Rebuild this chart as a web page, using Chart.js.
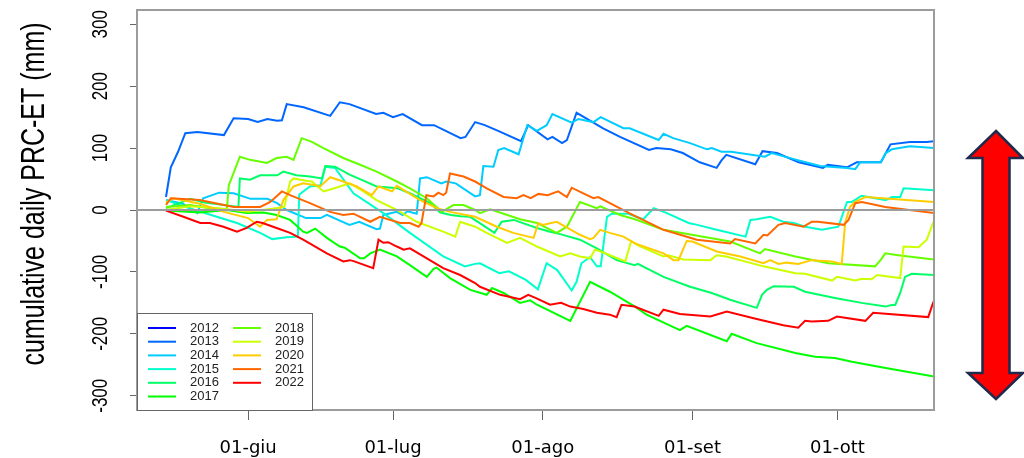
<!DOCTYPE html>
<html>
<head>
<meta charset="utf-8">
<script src="https://cdn.jsdelivr.net/npm/chart.js@4/dist/chart.umd.min.js"></script>
<style>
  html, body { margin: 0; padding: 0; background: #fff; }
</style>
</head>
<body>
<canvas id="chart" width="1024" height="458"></canvas>
<script>
// days counted from 01-giu (day 0), values in mm
const years = ['2012', '2013', '2014', '2015', '2016', '2017', '2018', '2019', '2020', '2021', '2022'];
const colors = ['#0000ff', '#0066ff', '#00ccff', '#00ffcc', '#00ff66', '#00ff00',
                '#66ff00', '#ccff00', '#ffcc00', '#ff6600', '#ff0000'];
const xTickDays = [0, 30, 61, 92, 122];
const xTickLabels = ['01-giu', '01-lug', '01-ago', '01-set', '01-ott'];
const yTicks = [-300, -200, -100, 0, 100, 200, 300];

const y2012 = [];
const y2013 = [[-17,21],[-16,69],[-14.5,94],[-13,124],[-10.5,126],[-5,121],[-3,148],[0,147],[2,142],[4,147],[6,144],[7,145],[8,171],[11.5,166],[17,152],[19,174],[21,171],[26.5,155],[28,157],[30,150],[32,155],[36,137],[38.5,137],[44,116],[45,118],[47,142],[49,137],[52,127],[56.5,111],[58,137],[62,114],[63,118],[65,108],[66,113],[68,157],[70,148],[73.5,132],[77,118],[83,97],[84.5,100],[87.5,98],[90,92],[93.5,77],[97,68],[98,80],[99,89],[105,74],[106.5,95],[109.5,92],[114,77],[119,68],[120,73],[124,69],[126,77],[131,77],[133,106],[137,110],[140.5,110],[142,111]];
const y2014 = [[-17,16],[-13.5,10],[-10.5,-5],[-9.3,19],[-6,28],[-3,27],[0.5,18],[4,18],[6,11],[8,0],[12,-13],[15,-13],[16.3,-8],[21,-24],[23,-19],[26.6,-31],[27.3,-30],[28,-8],[30.8,-3],[32,-8],[33,-2],[34.9,-6],[35.6,51],[37,53],[40,43],[41,46],[43,43],[47,22],[48,24],[48.7,71],[50.8,70],[51.8,97],[53,100],[56,90],[57.8,137],[59.8,128],[61.8,137],[63,155],[67,141],[68.4,147],[71.5,142],[73,150],[77.7,132],[79,132],[85,113],[86,123],[88,116],[91.5,108],[95,98],[96,100],[98,94],[100,94],[107,86],[108.4,92],[113.6,81],[118.4,71],[124,68],[125.7,66],[126.7,77],[131,77],[132,92],[133.3,98],[137,103],[142,100]];
const y2015 = [[-17,16],[-13,5],[-6.5,-11],[-2.3,-21],[2.5,-37],[5,-47],[8,-44],[10.3,-43],[10.6,25],[12.8,38],[15,40],[16,70],[18,68],[21.8,27],[28,-5],[33.5,-37],[40.4,-75],[44.9,-91],[47,-87],[48,-86],[52,-102],[54,-99],[57.5,-113],[60,-128],[61.8,-86],[64,-97],[67,-130],[68,-116],[69,-86],[70.8,-76],[72.2,-91],[73,-91],[74.3,-11],[75.3,-6],[78.7,-6],[81.8,-15],[84,3],[86.7,-5],[91.2,-21],[93,-24],[97,-32],[103,-43],[104,-16],[105.3,-15],[108.1,-11],[110.8,-19],[113,-21],[115.3,-27],[118.8,-32],[122.2,-27],[124,13],[125,13],[127,23],[132,16],[133.3,21],[135,21],[135.7,35],[142,32]];
const y2016 = [[-17,3],[-14,12],[-12,18],[-9,12],[-5,8],[-2,5],[-1.7,51],[0.4,49],[2.5,56],[6,56],[7.3,62],[10,56],[12.8,54],[15.3,51],[16,71],[18,70],[21,57],[24,47],[26.6,38],[31,35],[33.5,27],[37.7,11],[39.8,-4],[42,-8],[44,-10],[46,-11],[51,-37],[52.5,-19],[55,-16],[59.8,-29],[62.5,-35],[64.6,-39],[68.7,-48],[72.2,-62],[76.3,-81],[80,-89],[80.7,-87],[86,-108],[91.5,-124],[96,-134],[99.8,-145],[105.3,-158],[106.4,-137],[107.4,-129],[108.8,-123],[113,-124],[115.3,-132],[121.5,-142],[127,-150],[132,-156],[133,-154],[134,-153],[135,-134],[136,-108],[137.4,-103],[142,-105]];
const y2017 = [[-17,-1],[-10,-4],[-4.4,0],[-0.3,-5],[3.2,-4],[5.9,-8],[8.7,-16],[11.4,-35],[12.2,-37],[13.9,-30],[16.3,-45],[19,-59],[20,-61],[23.2,-78],[24,-78],[25.3,-70],[27.3,-64],[30.8,-75],[33.5,-89],[37,-108],[38.4,-95],[39,-93],[41.8,-110],[46,-129],[49.4,-137],[50.5,-126],[52.9,-134],[56.3,-150],[58.4,-146],[59.8,-153],[66.7,-179],[70.8,-116],[74.9,-132],[80.1,-156],[82.5,-169],[89.4,-194],[90.8,-187],[99.1,-212],[100.1,-200],[105.3,-215],[113.3,-231],[117.4,-237],[121.5,-239],[125,-245],[132,-255],[142,-269]];
const y2018 = [[-17,5],[-12,8],[-8,3],[-4.4,0],[-4,40],[-3.7,46],[-1.7,86],[0.4,81],[3.9,76],[5.9,84],[8,86],[9.4,81],[11.1,116],[13.2,110],[15.6,100],[19.7,84],[23.2,73],[26.6,62],[30.8,46],[33.5,35],[37,19],[40.1,-3],[42.5,8],[44.6,8],[47,0],[48,-5],[50.1,1],[52.9,-6],[56.3,-15],[59.8,-21],[63.9,-37],[66,-27],[68.7,13],[72.2,3],[72.9,6],[77,-8],[80.1,-15],[86,-32],[99.8,-51],[106,-70],[107,-63],[113.3,-75],[120.1,-86],[129.8,-91],[131,-80],[131.9,-70],[134.6,-73],[142,-80]];
const y2019 = [[-17,0],[-12,6],[-6,3],[0,-3],[5,2],[7.5,5],[8.7,46],[9.4,51],[11.4,48],[13.2,46],[15.6,30],[17,33],[21.1,43],[23.9,30],[26.6,16],[30.8,0],[34.9,-19],[40.4,-35],[42.9,-43],[43.9,-19],[47,-27],[49.4,-37],[53.6,-53],[56.3,-45],[59.8,-59],[64.6,-75],[66.7,-70],[68.7,-75],[70.8,-78],[71.8,-64],[73,-67],[78.1,-83],[79.3,-50],[80.7,-57],[86,-75],[87,-73],[90.1,-80],[95.7,-81],[97,-73],[99,-75],[106.7,-91],[113.3,-102],[115.3,-103],[120.9,-114],[121.9,-108],[125.7,-114],[127.1,-111],[129.1,-112],[130.2,-105],[135,-110],[135.7,-59],[138.8,-60],[140.5,-48],[141.9,-19]];
const y2020 = [[-17,12],[-15.5,19],[-10,10],[-5,-3],[0,-13],[2.5,-27],[3.9,-16],[5.9,-15],[7.3,16],[9.4,38],[11.4,43],[13.9,40],[14.9,38],[17,53],[19.7,46],[22.5,38],[25.6,24],[27,38],[29.8,30],[30.8,39],[35.6,16],[39.1,3],[41.8,-3],[47,-11],[51.5,-27],[54.9,-37],[59.1,-45],[60.1,-21],[61,-24],[63.9,-19],[68.7,-40],[70.8,-47],[71.5,-45],[72.9,-32],[74.9,-37],[77.7,-43],[80.1,-54],[86,-70],[88.1,-81],[89.1,-81],[90.8,-50],[92,-51],[97,-67],[101.9,-75],[106.7,-86],[108.1,-81],[109.8,-87],[111.5,-85],[113.9,-87],[116.7,-81],[120.9,-83],[122.9,-87],[123.6,-21],[124.6,5],[125.7,13],[127.8,21],[142,13]];
const y2021 = [[-17,8],[-16,19],[-10,16],[-3,5],[2.5,5],[4.6,13],[7,30],[8.7,24],[12.8,11],[17,-3],[19.7,-8],[21.8,-6],[25.3,-19],[27.3,-11],[31.5,-21],[33.5,-21],[35.3,-27],[35.9,-21],[36.9,24],[38.4,22],[39.4,28],[40.4,24],[41,28],[41.8,59],[44.6,54],[47,46],[49.4,35],[52.9,21],[55.6,19],[57,24],[58.5,19],[60.1,26],[62,24],[64.2,30],[66,21],[67,36],[69.4,27],[71.5,19],[72.5,21],[74.9,11],[79.1,-6],[86,-32],[92.9,-48],[99.8,-54],[100.8,-47],[105,-54],[106.7,-40],[107.5,-41],[109.8,-24],[111.2,-21],[115,-27],[116.7,-19],[118,-19],[123.3,-24],[124.3,-16],[125.7,11],[127.1,13],[131.9,5],[142,-5]];
const y2022 = [[-17,-1],[-13.4,-11],[-9.9,-21],[-7.9,-21],[-5.1,-27],[-2.3,-35],[-0.3,-29],[1.8,-19],[3,-21],[5.9,-29],[8.7,-37],[11.4,-48],[13.9,-59],[16.3,-70],[19.7,-83],[21.1,-81],[22,-83],[25.9,-94],[27,-48],[28,-53],[29,-52],[30.8,-59],[32.2,-64],[33.5,-62],[37,-78],[40.4,-94],[43.9,-105],[47,-118],[48,-124],[52.2,-137],[56.3,-144],[58,-137],[59.5,-142],[62.5,-153],[64.8,-150],[66.7,-156],[69.4,-160],[72.2,-166],[74.9,-169],[76.3,-173],[77.3,-153],[80,-156],[85,-171],[86,-161],[89.4,-168],[95.7,-172],[99.1,-164],[105.3,-176],[110.8,-186],[113.9,-190],[115.3,-179],[116.7,-180],[120.1,-179],[121.9,-172],[127.8,-179],[129.4,-166],[140.8,-173],[141.9,-148]];

const series = [y2012, y2013, y2014, y2015, y2016, y2017, y2018, y2019, y2020, y2021, y2022];

// the source picture is stretched sideways, text gets the same stretch
const STRETCH = 1.3;

const decor = {
  id: 'decor',
  afterDatasetsDraw(chart) {
    const { ctx, chartArea: a, scales: { y } } = chart;
    ctx.save();
    const y0 = y.getPixelForValue(0);
    ctx.strokeStyle = '#9c9c9c';
    ctx.lineWidth = 2;
    ctx.beginPath();
    ctx.moveTo(a.left, y0);
    ctx.lineTo(a.right, y0);
    ctx.stroke();
    ctx.strokeRect(a.left, a.top, a.right - a.left, a.bottom - a.top);

    // legend in two columns
    const lx = a.left, ly = 313, lw = 175, lh = a.bottom - ly;
    ctx.fillStyle = '#fff';
    ctx.fillRect(lx, ly, lw, lh);
    ctx.strokeStyle = '#666';
    ctx.lineWidth = 1;
    ctx.strokeRect(lx + 0.5, ly + 0.5, lw, lh);
    ctx.font = '13px "Liberation Sans", Arial, sans-serif';
    ctx.textBaseline = 'middle';
    chart.data.datasets.forEach((ds, i) => {
      const col = i < 6 ? 0 : 1;
      const row = i < 6 ? i : i - 6;
      const rowY = ly + 15 + row * 13.7;
      const x0 = lx + (col ? 96 : 11);
      ctx.strokeStyle = ds.borderColor;
      ctx.lineWidth = 2;
      ctx.beginPath();
      ctx.moveTo(x0, rowY);
      ctx.lineTo(x0 + 28, rowY);
      ctx.stroke();
      ctx.fillStyle = '#222';
      ctx.fillText(ds.label, x0 + 42, rowY);
    });
    ctx.restore();
  },
  afterDraw(chart) {
    const { ctx, scales: { y } } = chart;
    ctx.save();
    ctx.fillStyle = '#000';
    ctx.textAlign = 'center';
    ctx.textBaseline = 'middle';
    // y tick labels, rotated like R does
    ctx.font = '17px "Liberation Sans", Arial, sans-serif';
    yTicks.forEach(v => {
      ctx.save();
      ctx.translate(101, y.getPixelForValue(v));
      ctx.rotate(-Math.PI / 2);
      ctx.scale(1, STRETCH);
      ctx.fillText(String(v), 0, 0);
      ctx.restore();
    });
    // axis title
    ctx.save();
    ctx.translate(35, 194);
    ctx.rotate(-Math.PI / 2);
    ctx.scale(1, STRETCH);
    ctx.font = '25px "Liberation Sans", Arial, sans-serif';
    ctx.fillText('cumulative daily PRC-ET (mm)', 0, 0);
    ctx.restore();
    ctx.restore();

    // double headed arrow on the right
    const cx = 996;
    const pts = [[cx, 131], [1023, 158], [1009.5, 158], [1009.5, 373], [1023, 373],
                 [cx, 399], [968, 373], [982.5, 373], [982.5, 158], [968, 158]];
    ctx.save();
    ctx.beginPath();
    pts.forEach((p, i) => i ? ctx.lineTo(p[0], p[1]) : ctx.moveTo(p[0], p[1]));
    ctx.closePath();
    ctx.fillStyle = '#ff0000';
    ctx.fill();
    ctx.strokeStyle = '#1f2a4d';
    ctx.lineWidth = 2.5;
    ctx.stroke();
    ctx.restore();
  }
};

new Chart(document.getElementById('chart'), {
  type: 'line',
  data: {
    datasets: series.map((s, i) => ({
      label: years[i],
      data: s.map(p => ({ x: p[0], y: p[1] })),
      borderColor: colors[i],
      backgroundColor: colors[i],
      borderWidth: 2,
      pointRadius: 0,
      tension: 0,
      fill: false,
      order: series.length - i
    }))
  },
  options: {
    responsive: false,
    animation: false,
    devicePixelRatio: 1,
    layout: { padding: { top: 10, right: 90, bottom: 0, left: 0 } },
    plugins: { legend: { display: false }, tooltip: { enabled: false } },
    scales: {
      x: {
        type: 'linear',
        min: -23,
        max: 142,
        afterBuildTicks: s => { s.ticks = xTickDays.map(v => ({ value: v })); },
        afterFit: s => { s.height = 48; },
        border: { display: false },
        grid: { drawOnChartArea: false, tickLength: 10, tickColor: '#666' },
        ticks: {
          callback: (v, i) => xTickLabels[i],
          autoSkip: false,
          maxRotation: 0,
          padding: 18,
          color: '#000',
          font: { family: 'DejaVu Sans', size: 18 }
        }
      },
      y: {
        type: 'linear',
        min: -323,
        max: 323,
        afterBuildTicks: s => { s.ticks = yTicks.map(v => ({ value: v })); },
        afterFit: s => { s.width = 137; },
        border: { display: false },
        grid: { drawOnChartArea: false, tickLength: 7, tickColor: '#666' },
        ticks: { display: false }
      }
    }
  },
  plugins: [decor]
});
</script>
</body>
</html>
